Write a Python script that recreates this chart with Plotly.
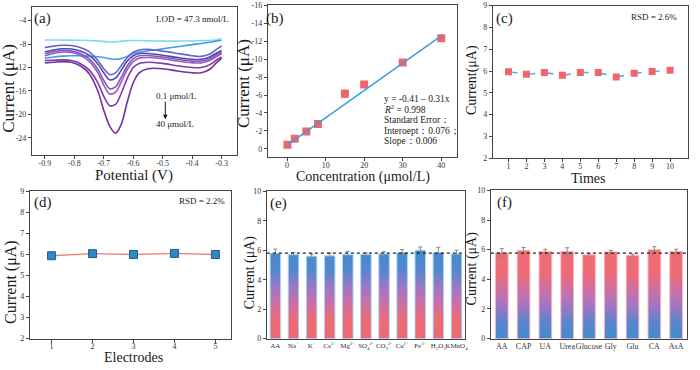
import plotly.graph_objects as go

W, H = 700, 370
FONT = "Liberation Serif, Times New Roman, serif"

# ---------------- (a) DPV curves ----------------
pot = [-0.9, -0.87, -0.84, -0.81, -0.78, -0.75, -0.72, -0.70, -0.68, -0.66, -0.64,
       -0.62, -0.60, -0.58, -0.55, -0.5, -0.45, -0.4, -0.37, -0.34, -0.32, -0.3]
dpv_1 = [-7.3, -7.3, -7.32, -7.33, -7.35, -7.38, -7.45, -7.55, -7.65, -7.62, -7.5,
         -7.42, -7.4, -7.4, -7.45, -7.5, -7.5, -7.45, -7.42, -7.4, -7.3, -7.0]
dpv_2 = [-10.4, -10.2, -10.05, -10.0, -10.0, -10.05, -10.15, -10.3, -10.5, -10.6, -10.45,
         -10.1, -9.6, -9.35, -9.15, -8.8, -8.45, -8.1, -7.9, -7.7, -7.5, -7.35]
dpv_3 = [-8.6, -8.35, -8.2, -8.25, -8.6, -9.3, -10.8, -12.2, -13.2, -12.9, -11.6,
         -10.3, -9.4, -9.0, -8.9, -9.2, -9.6, -10.0, -10.1, -9.7, -9.0, -8.3]
dpv_4 = [-9.3, -9.0, -8.8, -8.85, -9.2, -9.9, -11.4, -12.9, -14.1, -13.8, -12.4,
         -10.9, -10.0, -9.6, -9.6, -9.9, -10.3, -10.6, -10.6, -10.2, -9.6, -9.1]
dpv_5 = [-9.6, -9.3, -9.1, -9.2, -9.6, -10.5, -12.3, -14.2, -15.6, -15.3, -13.6,
         -11.7, -10.5, -10.0, -9.95, -10.2, -10.6, -10.9, -10.9, -10.5, -9.9, -9.4]
dpv_6 = [-10.0, -9.6, -9.35, -9.45, -9.9, -10.9, -12.9, -15.0, -16.5, -16.2, -14.4,
         -12.3, -11.0, -10.4, -10.3, -10.5, -10.9, -11.2, -11.2, -10.8, -10.2, -9.6]
dpv_7 = [-10.8, -10.75, -10.7, -10.8, -11.3, -12.4, -14.6, -16.9, -18.5, -18.3, -16.3,
         -13.8, -12.0, -11.3, -11.1, -11.3, -11.7, -12.0, -12.0, -11.5, -10.8, -10.2]
dpv_8 = [-11.2, -11.1, -11.0, -11.1, -11.7, -13.0, -16.0, -19.3, -22.0, -23.2, -21.6,
         -17.8, -14.6, -12.9, -12.2, -12.2, -12.6, -12.9, -12.9, -12.3, -11.3, -10.4]
dpv_curves = [dpv_1, dpv_2, dpv_3, dpv_4, dpv_5, dpv_6, dpv_7, dpv_8]
dpv_colors = ['#82d6f6', '#3c9fe0', '#6a62cc', '#4a48b0', '#8a52bc', '#9a5ac0', '#7e3aa6', '#74309c']

# ---------------- (b) calibration ----------------
conc = [0.1, 2, 5, 8, 15, 20, 30, 40]
cur_b = [-0.45, -1.12, -1.92, -2.78, -6.15, -7.18, -9.63, -12.35]
err_b = [0.15, 0.15, 0.12, 0.12, 0.4, 0.2, 0.12, 0.3]
fit_intercept = -0.41
fit_slope = -0.305
fit_range = [0, 40]

# ---------------- (c) repeatability ----------------
times = [1, 2, 3, 4, 5, 6, 7, 8, 9, 10]
cur_c = [5.97, 5.85, 5.93, 5.8, 5.93, 5.93, 5.72, 5.9, 5.98, 6.03]

# ---------------- (d) reproducibility ----------------
electrodes = [1, 2, 3, 4, 5]
cur_d = [5.94, 6.04, 6.0, 6.05, 6.0]

# ---------------- (e) interference (ions) ----------------
ions = ["AA", "Na<sup>+</sup>", "K<sup>+</sup>", "Ca<sup>2+</sup>", "Mg<sup>2+</sup>",
        "SO<sub>4</sub><sup>2-</sup>", "CO<sub>3</sub><sup>2-</sup>", "Cu<sup>2+</sup>",
        "Fe<sup>3+</sup>", "H<sub>2</sub>O<sub>2</sub>", "KMnO<sub>4</sub>"]
cur_e = [5.8, 5.7, 5.6, 5.62, 5.7, 5.72, 5.75, 5.85, 6.0, 5.85, 5.75]
err_e = [0.28, 0.15, 0.15, 0.2, 0.22, 0.1, 0.15, 0.2, 0.22, 0.35, 0.25]

# ---------------- (f) interference (organics) ----------------
organics = ["AA", "CAP", "UA", "Urea", "Glucose", "Gly", "Glu", "CA", "AsA"]
cur_f = [5.8, 5.95, 5.88, 5.88, 5.65, 5.85, 5.62, 6.0, 5.88]
err_f = [0.28, 0.2, 0.15, 0.25, 0.1, 0.1, 0.08, 0.2, 0.15]

BAR_W = 0.58
RED = '#f0646a'
BLUE_SQ = '#2f86c8'
AXC = '#444444'


def xd(x0, x1):
    return [x0 / W, x1 / W]


def yd(y0, y1):
    return [1 - y1 / H, 1 - y0 / H]


def axis(domain, rng, tickvals, ticktext, anchor, size=8, standoff=0):
    return dict(domain=domain, range=rng, tickvals=tickvals, ticktext=ticktext,
                anchor=anchor, showline=True, linecolor=AXC, linewidth=1, mirror=True,
                ticks='outside', ticklen=3, tickcolor=AXC, showgrid=False, zeroline=False,
                tickangle=0, ticklabelstandoff=standoff,
                tickfont=dict(family=FONT, size=size, color='#333333'))


fig = go.Figure()

# (a)
for curve, col in zip(dpv_curves, dpv_colors):
    fig.add_trace(go.Scatter(x=pot, y=curve, mode='lines', line=dict(color=col, width=1.6, shape='spline', smoothing=0.8),
                             xaxis='x', yaxis='y', showlegend=False))

# (b)
fig.add_trace(go.Scatter(x=conc, y=cur_b, mode='markers',
                         marker=dict(symbol='square', size=8, color=RED),
                         error_y=dict(type='data', array=err_b, color='#888888', thickness=1, width=2),
                         xaxis='x2', yaxis='y2', showlegend=False))
fig.add_trace(go.Scatter(x=fit_range, y=[fit_intercept + fit_slope * c for c in fit_range], mode='lines',
                         line=dict(color='#3aa0e0', width=1.6), xaxis='x2', yaxis='y2', showlegend=False))

# (c)
fig.add_trace(go.Scatter(x=times, y=cur_c, mode='lines+markers',
                         line=dict(color='#48b0ea', width=1.6, dash='dash'),
                         marker=dict(symbol='square', size=7, color=RED),
                         xaxis='x3', yaxis='y3', showlegend=False))

# (d)
fig.add_trace(go.Scatter(x=electrodes, y=cur_d, mode='lines+markers',
                         line=dict(color='#f08080', width=1.4),
                         marker=dict(symbol='square', size=8, color=BLUE_SQ, line=dict(color='#1e5f96', width=1)),
                         xaxis='x4', yaxis='y4', showlegend=False))


def bar_polys(vals):
    xs, ys = [], []
    for i, v in enumerate(vals):
        xs += [i - BAR_W / 2, i + BAR_W / 2, i + BAR_W / 2, i - BAR_W / 2, i - BAR_W / 2, None]
        ys += [0, 0, v, v, 0, None]
    return xs, ys


grad_e = [[0, '#f06868'], [0.25, '#ee6a78'], [0.45, '#c870a8'], [0.62, '#9a78c4'], [0.78, '#5a86cc'], [1, '#3a8cd2']]
grad_f = [[0, '#3a8cd2'], [0.22, '#5a86cc'], [0.38, '#9a78c4'], [0.55, '#c870a8'], [0.75, '#ee6a78'], [1, '#f06c70']]

# (e)
xs, ys = bar_polys(cur_e)
fig.add_trace(go.Scatter(x=xs, y=ys, mode='lines', fill='toself',
                         line=dict(color='#a6d8f2', width=1),
                         fillgradient=dict(type='vertical', colorscale=grad_e, start=0, stop=6),
                         xaxis='x5', yaxis='y5', showlegend=False, hoverinfo='skip'))
fig.add_trace(go.Scatter(x=list(range(len(ions))), y=cur_e, mode='markers', marker=dict(opacity=0, size=1),
                         error_y=dict(type='data', array=err_e, color='#888888', thickness=1, width=2),
                         xaxis='x5', yaxis='y5', showlegend=False))

# (f)
xs, ys = bar_polys(cur_f)
fig.add_trace(go.Scatter(x=xs, y=ys, mode='lines', fill='toself',
                         line=dict(color='#f4b4bc', width=1),
                         fillgradient=dict(type='vertical', colorscale=grad_f, start=0, stop=6),
                         xaxis='x6', yaxis='y6', showlegend=False, hoverinfo='skip'))
fig.add_trace(go.Scatter(x=list(range(len(organics))), y=cur_f, mode='markers', marker=dict(opacity=0, size=1),
                         error_y=dict(type='data', array=err_f, color='#888888', thickness=1, width=2),
                         xaxis='x6', yaxis='y6', showlegend=False))

a_y = [-4, -8, -12, -16, -20, -24]
a_x = [-0.9, -0.8, -0.7, -0.6, -0.5, -0.4, -0.3]
b_y = [0, -2, -4, -6, -8, -10, -12, -14, -16]
b_x = [0, 10, 20, 30, 40]
cd_y = [2, 3, 4, 5, 6, 7, 8, 9]
ef_y = [0, 2, 4, 6, 8, 10]


def lab(v):
    return ('-' if v < 0 else '') + (('%g' % abs(v)))


SO = -3
layout = dict(
    width=W, height=H, margin=dict(l=0, r=0, t=0, b=0, pad=0), autosize=False,
    paper_bgcolor='white', plot_bgcolor='white',
    font=dict(family=FONT, color='#222222'),
    xaxis=axis(xd(32, 238), [-0.944, -0.248], a_x, [lab(v) for v in a_x], 'y', standoff=SO),
    yaxis=axis(yd(3, 155), [-26.95, -1.67], a_y, [lab(v) for v in a_y], 'x'),
    xaxis2=axis(xd(269, 459), [-5.0, 44.1], b_x, [lab(v) for v in b_x], 'y2', standoff=SO),
    yaxis2=axis(yd(1, 157), [0.94, -16.07], b_y, [lab(v) for v in b_y], 'x2'),
    xaxis3=axis(xd(495, 691), [0.13, 11.0], times, [str(v) for v in times], 'y3', standoff=SO),
    yaxis3=axis(yd(1.7, 158), [2, 9], cd_y, [str(v) for v in cd_y], 'x3'),
    xaxis4=axis(xd(30, 232), [0.47, 5.38], electrodes, [str(v) for v in electrodes], 'y4', standoff=SO),
    yaxis4=axis(yd(192, 343), [2, 9], cd_y, [str(v) for v in cd_y], 'x4'),
    xaxis5=axis(xd(268, 467), [-0.47, 10.47], list(range(len(ions))), ions, 'y5', size=7),
    yaxis5=axis(yd(192, 343), [0, 10], ef_y, [str(v) for v in ef_y], 'x5'),
    xaxis6=axis(xd(493, 690), [-0.5, 8.5], list(range(len(organics))), organics, 'y6', size=8),
    yaxis6=axis(yd(191, 343), [0, 10], ef_y, [str(v) for v in ef_y], 'x6'),
)
fig.update_layout(**layout)
fig.update_xaxes(ticks='', selector=dict(anchor='y5'))
fig.update_xaxes(ticks='', selector=dict(anchor='y6'))

# reference dotted lines in (e) and (f)
fig.add_shape(type='line', xref='x5 domain', yref='y5', x0=0, x1=1, y0=cur_e[0], y1=cur_e[0],
              line=dict(color='#222222', width=1.2, dash='dot'))
fig.add_shape(type='line', xref='x6 domain', yref='y6', x0=0, x1=1, y0=cur_f[0] - 0.03, y1=cur_f[0] - 0.03,
              line=dict(color='#222222', width=1.2, dash='dot'))


def ann(text, x, y, size, xanchor='center', angle=0, yanchor='middle'):
    fig.add_annotation(text=text, x=x / W, y=1 - y / H, xref='paper', yref='paper', showarrow=False,
                       xanchor=xanchor, yanchor=yanchor, textangle=angle,
                       font=dict(family=FONT, size=size, color='#1a1a1a'))


# axis titles
ann("Current (μA)", 9, 86, 17, angle=-90)
ann("Potential (V)", 135, 176, 15)
ann("Current (μA)", 244, 81, 17, angle=-90)
ann("Concentration (μmol/L)", 365, 177, 14)
ann("Current(μA)", 474, 78, 14, angle=-90)
ann("Times", 591, 179, 14)
ann("Current (μA)", 11, 285, 16, angle=-90)
ann("Electrodes", 134, 362, 14)
ann("Current (μA)", 251, 275, 14, angle=-90)
ann("Current (μA)", 474, 271, 14, angle=-90)

# panel labels
ann("(a)", 43, 15, 15)
ann("(b)", 276, 15, 15)
ann("(c)", 507, 15, 15)
ann("(d)", 43, 203, 15)
ann("(e)", 280, 204, 15)
ann("(f)", 507, 203, 15)

# in-panel notes
ann("LOD = 47.3 nmol/L", 232, 15, 9, xanchor='right')
ann("RSD = 2.6%", 682, 13, 9, xanchor='right')
ann("RSD = 2.2%", 228, 202, 9, xanchor='right')
ann("0.1 μmol/L", 155, 94, 9, xanchor='left')
ann("40 μmol/L", 155, 123, 9, xanchor='left')
fig.add_annotation(x=166 / W, y=1 - 118 / H, xref='paper', yref='paper', ax=0, ay=-19,
                   showarrow=True, arrowhead=2, arrowsize=0.9, arrowwidth=1, arrowcolor='#111111', text='')

b_lines = ["y = -0.41 – 0.31x", "<i>R</i><sup>2</sup> = 0.998", "Standard Error：",
           "Interoept：0.076；", "Slope：0.006"]
b_line_y = [97, 108, 119, 130, 140.5]
for t, yy in zip(b_lines, b_line_y):
    ann(t, 384, yy, 9.5, xanchor='left')

fig.write_html("out.html", config={'displayModeBar': False},
               post_script="document.body.style.margin='0';document.body.style.padding='0';"
                           "document.body.style.overflow='hidden';")
